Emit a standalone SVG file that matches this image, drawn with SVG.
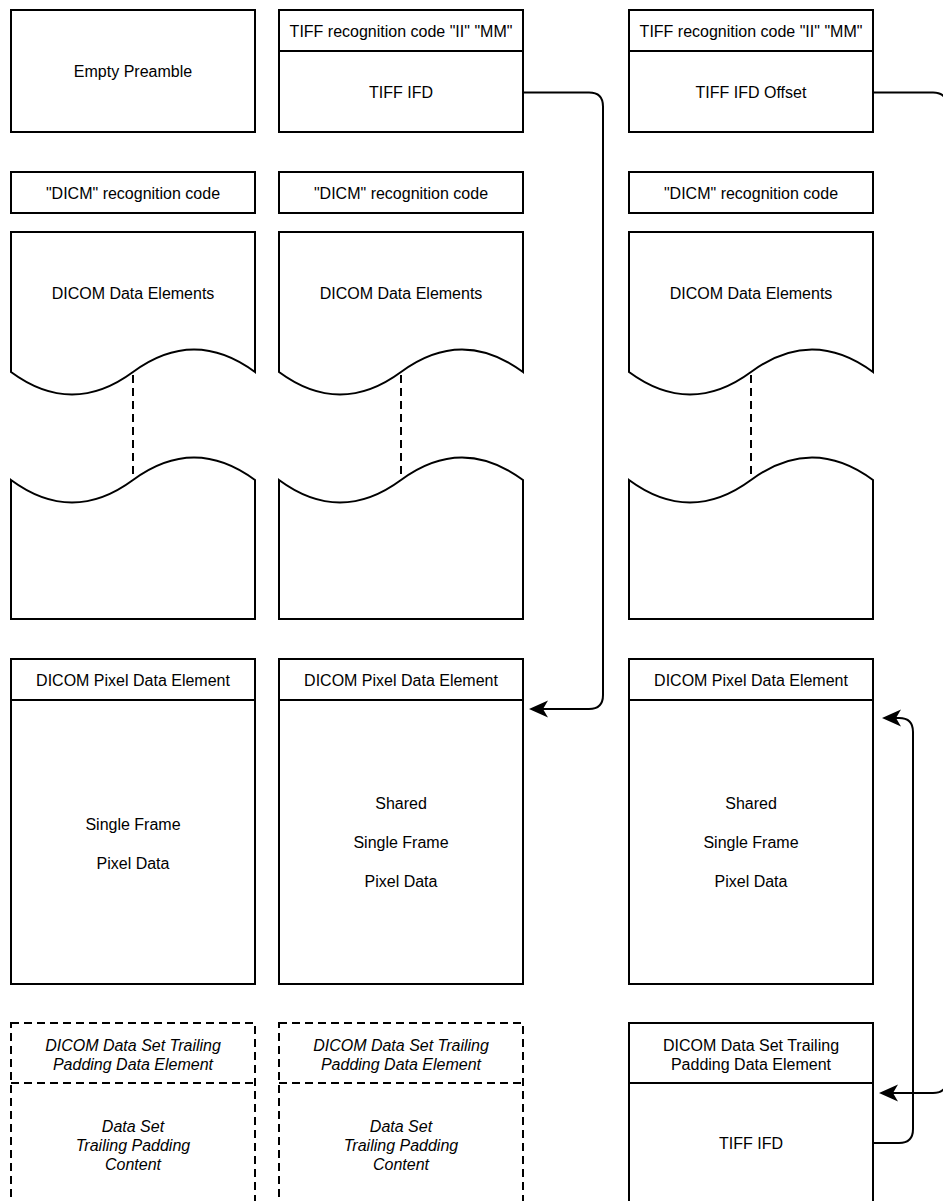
<svg xmlns="http://www.w3.org/2000/svg" width="943" height="1201" viewBox="0 0 943 1201">
<style>
.b{fill:#fff;stroke:#000;stroke-width:2}
.d{fill:#fff;stroke:#000;stroke-width:2;stroke-dasharray:8 5}
.ln{fill:none;stroke:#000;stroke-width:2}
.dl{fill:none;stroke:#000;stroke-width:2;stroke-dasharray:8 5}
.c{fill:none;stroke:#000;stroke-width:2;marker-end:url(#arr)}
text{font-family:"Liberation Sans",Arial,Helvetica,sans-serif;font-size:16px;fill:#000;text-anchor:middle;dominant-baseline:central}
.i{font-style:italic}
</style>
<defs>
<marker id="arr" viewBox="-6 -10 22 20" refX="0" refY="0" markerWidth="22" markerHeight="20" markerUnits="userSpaceOnUse" orient="auto">
<path d="M14,0 L-5,-8.5 L0,0 L-5,8.5 Z" fill="#000" stroke="none"/>
</marker>
</defs>

<g id="connectors">
<path class="c" d="M523,92.5 H589 Q603,92.5 603,106.5 V695 Q603,709 589,709 H543"/>
<path class="c" d="M873,92.5 H933 Q947,92.5 947,106.5 V1079 Q947,1093 933,1093 H893"/>
<path class="c" d="M873,1143 H899 Q913,1143 913,1129 V732 Q913,718 899,718 H896"/>
</g>

<!-- Column 1 -->
<g id="c1-preamble">
<rect class="b" x="11" y="10" width="244" height="122"/>
<text x="133" y="71">Empty Preamble</text>
</g>
<g id="c1-dicm">
<rect class="b" x="11" y="172" width="244" height="41"/>
<text x="133" y="193">"DICM" recognition code</text>
</g>
<g id="c1-elements">
<path class="b" d="M11,232 H255 V372 Q194,327 133,372 Q72,417 11,372 Z"/>
<text x="133" y="293">DICOM Data Elements</text>
<line class="dl" x1="133" y1="375" x2="133" y2="477"/>
<path class="b" d="M11,480 Q72,525 133,480 Q194,435 255,480 V619 H11 Z"/>
</g>
<g id="c1-pixel">
<rect class="b" x="11" y="659" width="244" height="325"/>
<line class="ln" x1="11" y1="700" x2="255" y2="700"/>
<text x="133" y="680">DICOM Pixel Data Element</text>
<text x="133" y="824">Single Frame</text>
<text x="133" y="863">Pixel Data</text>
</g>
<g id="c1-padding">
<rect class="d" x="11" y="1023" width="244" height="220"/>
<line class="dl" x1="11" y1="1083" x2="255" y2="1083"/>
<text class="i" x="133" y="1045">DICOM Data Set Trailing</text>
<text class="i" x="133" y="1064">Padding Data Element</text>
<text class="i" x="133" y="1126">Data Set</text>
<text class="i" x="133" y="1145">Trailing Padding</text>
<text class="i" x="133" y="1164">Content</text>
</g>

<!-- Column 2 -->
<g id="c2-tiff">
<rect class="b" x="279" y="10" width="244" height="122"/>
<line class="ln" x1="279" y1="51" x2="523" y2="51"/>
<text x="401" y="31">TIFF recognition code "II" "MM"</text>
<text x="401" y="92">TIFF IFD</text>
</g>
<g id="c2-dicm">
<rect class="b" x="279" y="172" width="244" height="41"/>
<text x="401" y="193">"DICM" recognition code</text>
</g>
<g id="c2-elements">
<path class="b" d="M279,232 H523 V372 Q462,327 401,372 Q340,417 279,372 Z"/>
<text x="401" y="293">DICOM Data Elements</text>
<line class="dl" x1="401" y1="375" x2="401" y2="477"/>
<path class="b" d="M279,480 Q340,525 401,480 Q462,435 523,480 V619 H279 Z"/>
</g>
<g id="c2-pixel">
<rect class="b" x="279" y="659" width="244" height="325"/>
<line class="ln" x1="279" y1="700" x2="523" y2="700"/>
<text x="401" y="680">DICOM Pixel Data Element</text>
<text x="401" y="803">Shared</text>
<text x="401" y="842">Single Frame</text>
<text x="401" y="881">Pixel Data</text>
</g>
<g id="c2-padding">
<rect class="d" x="279" y="1023" width="244" height="220"/>
<line class="dl" x1="279" y1="1083" x2="523" y2="1083"/>
<text class="i" x="401" y="1045">DICOM Data Set Trailing</text>
<text class="i" x="401" y="1064">Padding Data Element</text>
<text class="i" x="401" y="1126">Data Set</text>
<text class="i" x="401" y="1145">Trailing Padding</text>
<text class="i" x="401" y="1164">Content</text>
</g>

<!-- Column 3 -->
<g id="c3-tiff">
<rect class="b" x="629" y="10" width="244" height="122"/>
<line class="ln" x1="629" y1="51" x2="873" y2="51"/>
<text x="751" y="31">TIFF recognition code "II" "MM"</text>
<text x="751" y="92">TIFF IFD Offset</text>
</g>
<g id="c3-dicm">
<rect class="b" x="629" y="172" width="244" height="41"/>
<text x="751" y="193">"DICM" recognition code</text>
</g>
<g id="c3-elements">
<path class="b" d="M629,232 H873 V372 Q812,327 751,372 Q690,417 629,372 Z"/>
<text x="751" y="293">DICOM Data Elements</text>
<line class="dl" x1="751" y1="375" x2="751" y2="477"/>
<path class="b" d="M629,480 Q690,525 751,480 Q812,435 873,480 V619 H629 Z"/>
</g>
<g id="c3-pixel">
<rect class="b" x="629" y="659" width="244" height="325"/>
<line class="ln" x1="629" y1="700" x2="873" y2="700"/>
<text x="751" y="680">DICOM Pixel Data Element</text>
<text x="751" y="803">Shared</text>
<text x="751" y="842">Single Frame</text>
<text x="751" y="881">Pixel Data</text>
</g>
<g id="c3-padding">
<rect class="b" x="629" y="1023" width="244" height="220"/>
<line class="ln" x1="629" y1="1083" x2="873" y2="1083"/>
<text x="751" y="1045">DICOM Data Set Trailing</text>
<text x="751" y="1064">Padding Data Element</text>
<text x="751" y="1143">TIFF IFD</text>
</g>
</svg>
